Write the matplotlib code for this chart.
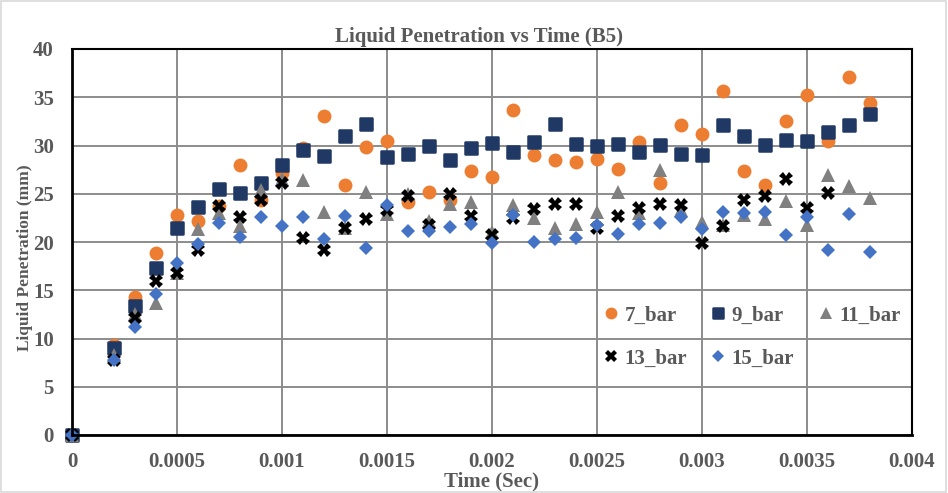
import matplotlib
matplotlib.use('Agg')
import matplotlib.pyplot as plt
from matplotlib.patches import Rectangle
from matplotlib.markers import MarkerStyle

# time (sec)
time = [0, 0.0002, 0.0003, 0.0004, 0.0005, 0.0006, 0.0007, 0.0008, 0.0009, 0.001,
        0.0011, 0.0012, 0.0013, 0.0014, 0.0015, 0.0016, 0.0017, 0.0018, 0.0019, 0.002,
        0.0021, 0.0022, 0.0023, 0.0024, 0.0025, 0.0026, 0.0027, 0.0028, 0.0029, 0.003,
        0.0031, 0.0032, 0.0033, 0.0034, 0.0035, 0.0036, 0.0037, 0.0038]

bar7 = [0, 9.3, 14.3, 18.9, 22.8, 22.2, 23.7, 28.0, 24.4, 27.1,
        29.7, 33.1, 25.9, 29.8, 30.5, 24.1, 25.2, 24.4, 27.4, 26.7,
        33.7, 29.0, 28.5, 28.3, 28.6, 27.6, 30.4, 26.1, 32.1, 31.2,
        35.6, 27.4, 25.9, 32.5, 35.2, 30.5, 37.1, 34.4]
bar9 = [0, 9.0, 13.4, 17.3, 21.5, 23.6, 25.5, 25.1, 26.1, 28.0,
        29.5, 28.9, 31.0, 32.2, 28.8, 29.1, 29.9, 28.5, 29.7, 30.3,
        29.3, 30.4, 32.2, 30.2, 29.9, 30.2, 29.3, 30.1, 29.1, 29.0,
        32.1, 31.0, 30.1, 30.6, 30.5, 31.4, 32.1, 33.3]
bar11 = [0, 8.3, 12.5, 13.7, 16.8, 21.3, 23.0, 21.7, 25.4, 26.5,
         26.4, 23.1, 21.5, 25.2, 22.9, 25.0, 22.2, 23.9, 24.1, 21.0,
         23.8, 22.5, 21.5, 21.9, 23.1, 25.2, 23.0, 27.5, 23.3, 22.1,
         21.8, 22.8, 22.4, 24.2, 21.8, 26.9, 25.8, 24.6]
bar13 = [0, 7.8, 12.1, 16.0, 16.8, 19.2, 23.7, 22.6, 24.4, 26.1,
         20.4, 19.2, 21.4, 22.4, 23.3, 24.8, 21.8, 25.0, 22.7, 20.7,
         22.5, 23.4, 23.9, 23.9, 21.5, 22.7, 23.5, 23.9, 23.8, 19.9,
         21.7, 24.4, 24.8, 26.5, 23.5, 25.1]
bar15 = [0, 7.8, 11.2, 14.6, 17.8, 19.8, 22.0, 20.5, 22.6, 21.7,
         22.6, 20.3, 22.7, 19.4, 23.8, 21.1, 21.1, 21.6, 21.9, 19.9,
         22.8, 20.0, 20.3, 20.4, 21.8, 20.8, 21.9, 22.0, 22.6, 21.3,
         23.1, 23.0, 23.1, 20.7, 22.6, 19.2, 22.9, 19.0]

xTicks = [0, 0.0005, 0.001, 0.0015, 0.002, 0.0025, 0.003, 0.0035, 0.004]
yTicks = [0, 5, 10, 15, 20, 25, 30, 35, 40]

textColor = '#595959'
plt.rcParams['font.family'] = ['Liberation Serif', 'DejaVu Serif']
plt.rcParams['font.weight'] = 'bold'

fig = plt.figure(figsize=(9.48, 4.93), dpi=100)
fig.patches.append(Rectangle((0.001, 0.002), 0.997, 0.995, transform=fig.transFigure,
                             fill=False, edgecolor='#d9d9d9', linewidth=1.2))
ax = fig.add_axes([72 / 948, 58 / 493, 840 / 948, 386 / 493])

roundSquare = MarkerStyle('s', joinstyle='round')
ax.plot(time, bar7, 'o', color='#ED7D31', ms=10, mew=0, label='7_bar', clip_on=False)
ax.plot(time, bar9, linestyle='none', marker=roundSquare, color='#1F3864', ms=8.5,
        mew=1.8, mec='#1F3864', label='9_bar', clip_on=False)
ax.plot(time[:len(bar11)], bar11, '^', color='#808080', ms=10, mew=0,
        label='11_bar', clip_on=False)
ax.plot(time[:len(bar13)], bar13, 'X', color='black', ms=10, mew=0,
        label='13_bar', clip_on=False)
ax.plot(time, bar15, 'D', color='#4472C4', ms=7.2, mew=0, label='15_bar', clip_on=False)

ax.set_xlim(0, 0.004)
ax.set_ylim(0, 40)
ax.set_xticks(xTicks)
ax.set_xticklabels(['%g' % t for t in xTicks])
ax.set_yticks(yTicks)
ax.tick_params(length=0, labelsize=15, labelcolor=textColor)
ax.tick_params(axis='x', pad=12)
ax.tick_params(axis='y', pad=13)
ax.grid(True, color='#8c8c8c', linewidth=1.4)
ax.set_axisbelow(True)
for s in ax.spines.values():
    s.set_color('black')
    s.set_linewidth(1.5)
ax.spines['left'].set_linewidth(2)
ax.spines['bottom'].set_linewidth(2)

ax.set_xlabel('Time (Sec)', fontsize=15, color=textColor, fontweight='bold', labelpad=0)
ax.set_ylabel('Liquid Penetration (mm)', fontsize=12.5, color=textColor, fontweight='bold')
ax.yaxis.set_label_coords(-0.0464, 0.46)
ax.set_title('Liquid Penetration vs Time (B5)', fontsize=15, color=textColor,
             fontweight='bold', pad=5)
ax.title.set_x(0.484)

# rows of legend: 7, 9, 11 / 13, 15
h, l = ax.get_legend_handles_labels()
order = [0, 3, 1, 4, 2]
leg = ax.legend([h[i] for i in order], [l[i] for i in order], ncol=3,
                loc='upper right', bbox_to_anchor=(1.0, 0.365), frameon=False,
                fontsize=15, labelcolor=textColor, handletextpad=0.3,
                columnspacing=1.15, handlelength=0.7, labelspacing=1.1,
                borderpad=0.55, borderaxespad=0, markerscale=0.85)

plt.savefig('out.png', dpi=100)
